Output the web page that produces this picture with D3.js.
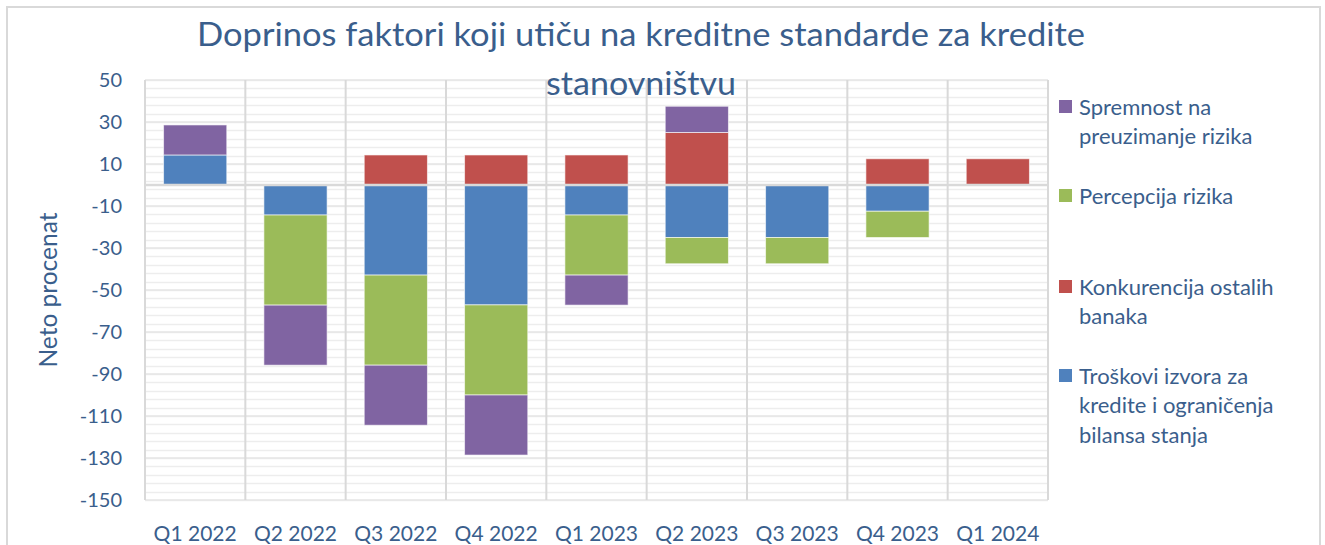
<!DOCTYPE html>
<html>
<head>
<meta charset="utf-8">
<script src="https://cdn.jsdelivr.net/npm/d3@7"></script>
<style>
  html, body { margin: 0; padding: 0; background: #fff; }
  svg { display: block; }
  text { font-family: Lato, "Open Sans", sans-serif; fill: #3A5E8C; }
</style>
</head>
<body>
<svg id="chart" width="1325" height="545"></svg>
<script>
// ---- data ----
const categories = ["Q1 2022", "Q2 2022", "Q3 2022", "Q4 2022", "Q1 2023", "Q2 2023", "Q3 2023", "Q4 2023", "Q1 2024"];
const troskovi     = [14.3, -14.3, -42.9, -57.1, -14.3, -25.0, -25.0, -12.5, 0];
const percepcija   = [0, -42.9, -42.9, -42.9, -28.6, -12.5, -12.5, -12.5, 0];
const konkurencija = [0, 0, 14.3, 14.3, 14.3, 25.0, 0, 12.5, 12.5];
const spremnost    = [14.3, -28.6, -28.6, -28.6, -14.3, 12.5, 0, 0, 0];
const yTicks = [50, 30, 10, -10, -30, -50, -70, -90, -110, -130, -150];
const titleLines = ["Doprinos faktori koji utiču na kreditne standarde za kredite", "stanovništvu"];
const yTitle = "Neto procenat";

const colors = ["#4F81BD", "#9BBB59", "#C0504D", "#8064A2"];
const legendLines = [
  ["Spremnost na", "preuzimanje rizika"],
  ["Percepcija rizika"],
  ["Konkurencija ostalih", "banaka"],
  ["Troškovi izvora za", "kredite i ograničenja", "bilansa stanja"]
];

// ---- build table ----
const keys = ["t", "p", "k", "s"];
const table = categories.map((c, i) => ({cat: c, t: troskovi[i], p: percepcija[i], k: konkurencija[i], s: spremnost[i]}));
const stack = d3.stack().keys(keys).offset(d3.stackOffsetDiverging);
const stacked = stack(table);

const svg = d3.select("#chart");
const L = 145, R = 1048, T = 80, B = 500;

// outer border
svg.append("rect").attr("x", 7).attr("y", 7).attr("width", 1313).attr("height", 560)
  .attr("fill", "none").attr("stroke", "#d9d9d9").attr("stroke-width", 2);

const x = d3.scaleBand().domain(categories).range([L, R]).paddingInner(0.37).paddingOuter(0.185);
const y = d3.scaleLinear().domain([-150, 50]).range([B, T]);

// minor gridlines every 4 from -150
const minor = d3.range(-150, 50.001, 4);
svg.append("g").selectAll("line").data(minor).join("line")
  .attr("x1", L).attr("x2", R)
  .attr("y1", d => Math.round(y(d)) + 0.5).attr("y2", d => Math.round(y(d)) + 0.5)
  .attr("stroke", "#ededed").attr("stroke-width", 1.5);
// major gridlines
svg.append("g").selectAll("line").data(yTicks).join("line")
  .attr("x1", L).attr("x2", R)
  .attr("y1", d => y(d)).attr("y2", d => y(d))
  .attr("stroke", "#e6e6e6").attr("stroke-width", 1.5);

// vertical category separators
const step = x.step();
const seps = d3.range(categories.length + 1).map(i => L + i * step);
svg.append("g").selectAll("line").data(seps).join("line")
  .attr("x1", d => d).attr("x2", d => d).attr("y1", T).attr("y2", B)
  .attr("stroke", "#d9d9d9").attr("stroke-width", 2);

// bars
svg.append("g").selectAll("g").data(stacked).join("g")
  .attr("fill", (d, i) => colors[i])
  .selectAll("rect").data(d => d.filter(s => s[1] !== s[0])).join("rect")
  .attr("x", d => x(d.data.cat))
  .attr("width", x.bandwidth())
  .attr("y", d => y(Math.max(d[0], d[1])))
  .attr("height", d => Math.abs(y(d[0]) - y(d[1])))
  .attr("stroke", "rgba(255,255,255,0.6)").attr("stroke-width", 1);

// zero line
svg.append("line").attr("x1", L).attr("x2", R).attr("y1", y(0)).attr("y2", y(0))
  .attr("stroke", "#d9d9d9").attr("stroke-width", 2.5);

// y tick labels
svg.append("g").selectAll("text").data(yTicks).join("text")
  .attr("x", 122).attr("y", d => y(d)).attr("dy", "0.36em")
  .attr("text-anchor", "end").attr("font-size", 20).text(d => d);

// x labels
svg.append("g").selectAll("text").data(categories).join("text")
  .attr("x", d => x(d) + x.bandwidth() / 2).attr("y", 541)
  .attr("text-anchor", "middle").attr("font-size", 21).text(d => d);

// y title
svg.append("text").attr("transform", "translate(57,290) rotate(-90)")
  .attr("text-anchor", "middle").attr("font-size", 25)
  .attr("textLength", 155).attr("lengthAdjust", "spacingAndGlyphs").text(yTitle);

// title
svg.append("text").attr("x", 641).attr("y", 46).attr("text-anchor", "middle")
  .attr("font-size", 32).attr("textLength", 888).attr("lengthAdjust", "spacingAndGlyphs")
  .text(titleLines[0]);
svg.append("text").attr("x", 641).attr("y", 95).attr("text-anchor", "middle")
  .attr("font-size", 32).attr("textLength", 190).attr("lengthAdjust", "spacingAndGlyphs")
  .text(titleLines[1]);

// legend
const legendColor = [colors[3], colors[1], colors[2], colors[0]];
const legendY = [107, 196, 287, 376];
const lg = svg.append("g");
legendLines.forEach((lines, i) => {
  lg.append("rect").attr("x", 1059).attr("y", legendY[i] - 7).attr("width", 13).attr("height", 13)
    .attr("fill", legendColor[i]);
  lines.forEach((ln, j) => {
    lg.append("text").attr("x", 1079).attr("y", legendY[i] + j * 29.5).attr("dy", "0.36em")
      .attr("font-size", 22).text(ln);
  });
});
</script>
</body>
</html>
